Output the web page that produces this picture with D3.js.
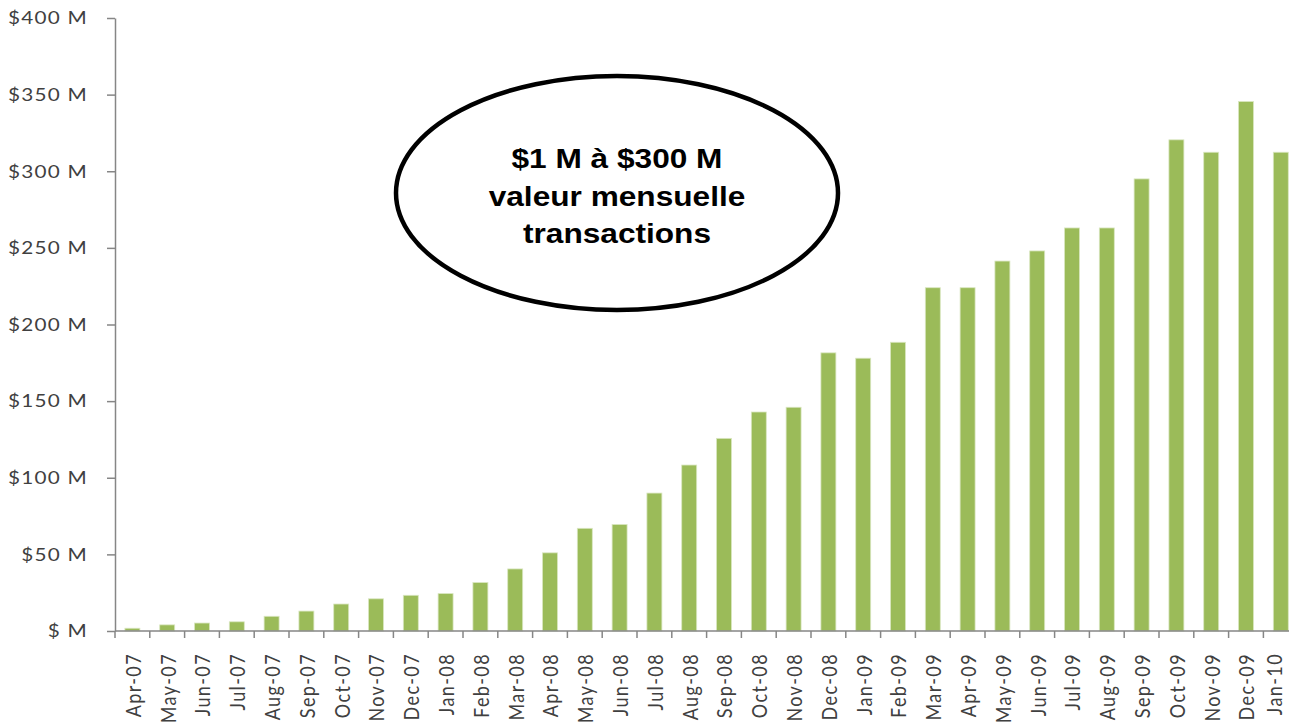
<!DOCTYPE html>
<html>
<head>
<meta charset="utf-8">
<script src="https://cdn.jsdelivr.net/npm/d3@7"></script>
<style>
  body { margin: 0; background: #ffffff; }
  svg { display: block; }
</style>
</head>
<body>
<svg id="chart"></svg>
<script>
// monthly transaction value, millions of dollars
const months = [
  'Apr-07', 'May-07', 'Jun-07', 'Jul-07', 'Aug-07', 'Sep-07', 'Oct-07', 'Nov-07', 'Dec-07',
  'Jan-08', 'Feb-08', 'Mar-08', 'Apr-08', 'May-08', 'Jun-08', 'Jul-08', 'Aug-08', 'Sep-08',
  'Oct-08', 'Nov-08', 'Dec-08', 'Jan-09', 'Feb-09', 'Mar-09', 'Apr-09', 'May-09', 'Jun-09',
  'Jul-09', 'Aug-09', 'Sep-09', 'Oct-09', 'Nov-09', 'Dec-09', 'Jan-10'
];
const values = [
  1.8, 4, 5.2, 6, 9.6, 13, 17.6, 21, 23.3,
  24.4, 31.6, 40.5, 51, 67, 69.5, 90, 108.3, 125.7,
  142.9, 146, 181.5, 178, 188.4, 224, 224, 241.4, 248,
  263, 263, 295, 320.5, 312.4, 345.5, 312.4
];
const yTicks = [0, 50, 100, 150, 200, 250, 300, 350, 400];
const calloutLines = ['$1 M à $300 M', 'valeur mensuelle', 'transactions'];

const W = 1289, H = 723;
const area = { left: 115, top: 18, bottom: 631, step: 34.8 };

const svg = d3.select('#chart')
  .attr('width', W)
  .attr('height', H);

const x = d3.scaleBand()
  .domain(months)
  .range([area.left, area.left + area.step * months.length])
  .paddingInner(0.57)
  .paddingOuter(0.285);

const y = d3.scaleLinear()
  .domain([0, 400])
  .range([area.bottom, area.top]);

const axisColor = '#868686';
const textColor = '#404040';
const labelFont = 'Lato, "Open Sans", sans-serif';

// bars
svg.append('g')
  .selectAll('rect')
  .data(values)
  .join('rect')
  .attr('x', (d, i) => x(months[i]))
  .attr('y', d => y(d))
  .attr('width', x.bandwidth())
  .attr('height', d => y(0) - y(d))
  .attr('fill', '#9bbb59')
  .attr('stroke', '#d9e6c0')
  .attr('stroke-width', 0.8);

// y axis
const yAxis = svg.append('g')
  .attr('transform', `translate(${area.left},0)`)
  .call(d3.axisLeft(y).tickValues(yTicks).tickSize(8).tickSizeOuter(0)
    .tickFormat(d => d === 0 ? '$ M' : `$${d} M`));
yAxis.select('.domain').attr('stroke', axisColor).attr('stroke-width', 1.5);
yAxis.selectAll('.tick line').attr('stroke', axisColor).attr('stroke-width', 1.5);
yAxis.selectAll('.tick text')
  .attr('x', 0)
  .attr('transform', 'translate(-27,0) scale(1.15,1)')
  .attr('fill', textColor)
  .style('font-family', labelFont)
  .style('font-size', '18px')
  .style('letter-spacing', '1.1px');

// x axis: ticks on category boundaries
const xAxisG = svg.append('g');
xAxisG.append('line')
  .attr('x1', area.left)
  .attr('x2', W)
  .attr('y1', y(0))
  .attr('y2', y(0))
  .attr('stroke', axisColor)
  .attr('stroke-width', 1.5);
xAxisG.selectAll('line.tick')
  .data(months)
  .join('line')
  .attr('class', 'tick')
  .attr('x1', d => x(d) - x.step() * x.paddingOuter())
  .attr('x2', d => x(d) - x.step() * x.paddingOuter())
  .attr('y1', y(0))
  .attr('y2', y(0) + 7)
  .attr('stroke', axisColor)
  .attr('stroke-width', 1.5);
// keep the last label inside the page
const labelX = d => Math.min(x(d) + x.bandwidth() / 2 + 1, W - 14);
xAxisG.selectAll('text')
  .data(months)
  .join('text')
  .attr('transform', d => `translate(${labelX(d)},${y(0) + 22}) scale(1.15,1) rotate(-90)`)
  .attr('dy', '0.36em')
  .style('text-anchor', 'end')
  .attr('fill', textColor)
  .style('font-family', labelFont)
  .style('font-size', '18px')
  .style('letter-spacing', '1.4px')
  .text(d => d);

// callout
const callout = svg.append('g')
  .attr('transform', 'translate(617,193)');
callout.append('ellipse')
  .attr('rx', 221)
  .attr('ry', 117)
  .attr('fill', '#ffffff')
  .attr('stroke', '#000000')
  .attr('stroke-width', 4.5);
callout.selectAll('text')
  .data(calloutLines)
  .join('text')
  .attr('transform', (d, i) => `translate(0,${-25 + i * 37.5}) scale(1.13,1)`)
  .style('text-anchor', 'middle')
  .style('font-family', '"Liberation Sans", Arial, sans-serif')
  .style('font-weight', 'bold')
  .style('font-size', '28px')
  .attr('fill', '#000000')
  .text(d => d);
</script>
</body>
</html>
